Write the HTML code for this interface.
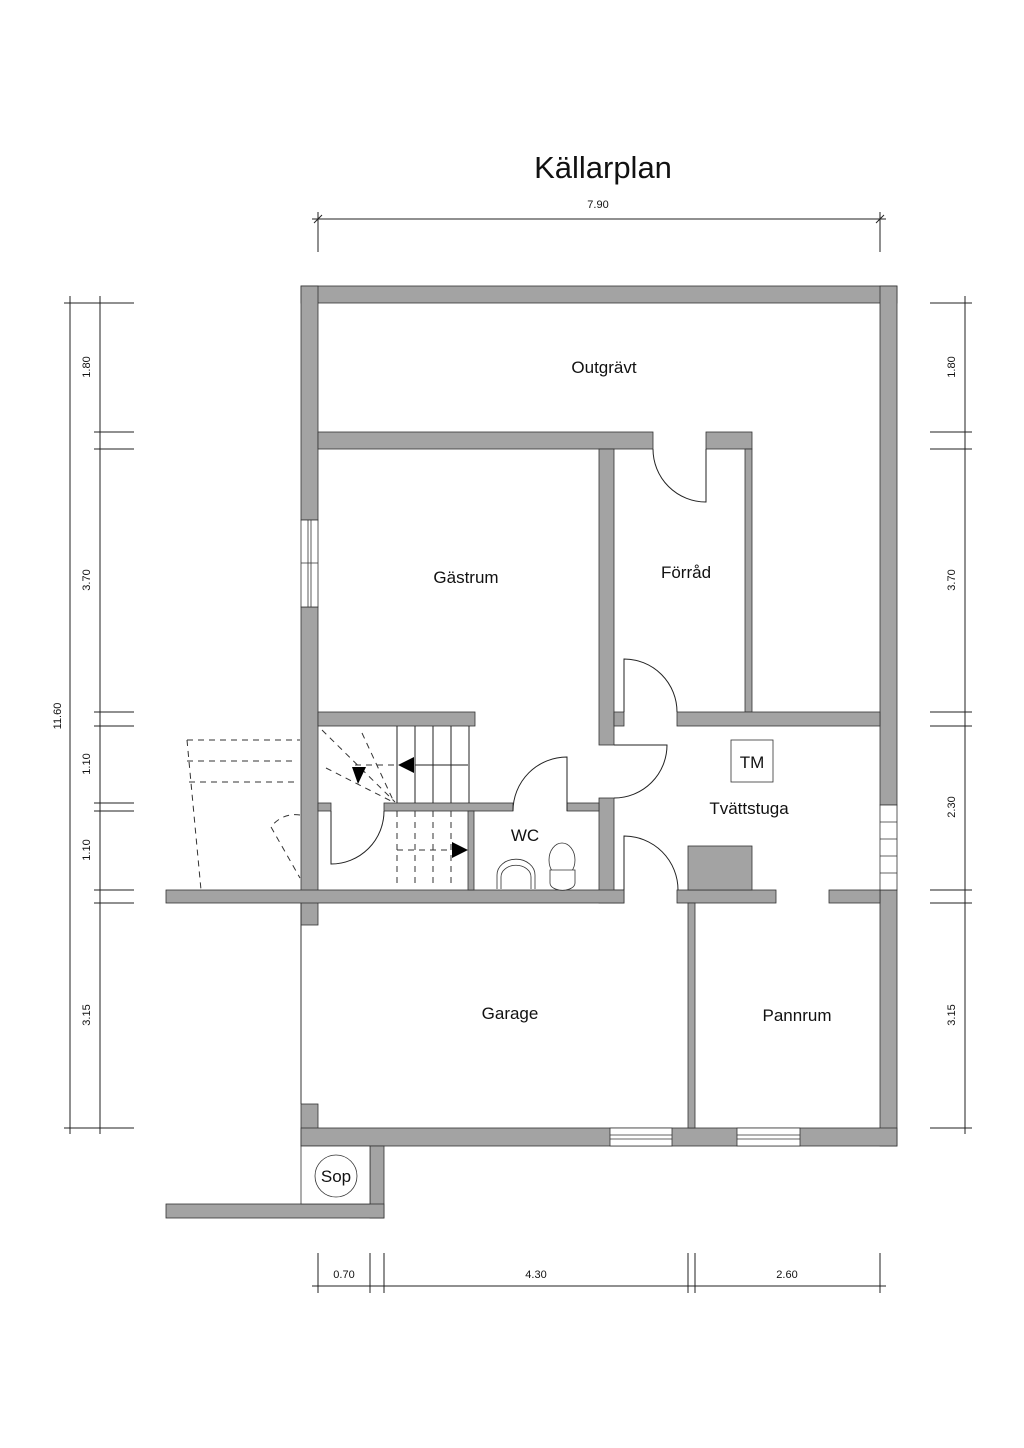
<!DOCTYPE html>
<html><head><meta charset="utf-8"><style>
html,body{margin:0;padding:0;background:#fff;}
svg{display:block;}
text{font-family:"Liberation Sans",sans-serif;fill:#111;}
</style></head><body>
<svg width="1024" height="1448" viewBox="0 0 1024 1448" xmlns="http://www.w3.org/2000/svg">
<text x="603" y="178" font-size="31" text-anchor="middle">Källarplan</text>
<!-- dimensions -->
<g stroke="#222" stroke-width="1" fill="none">
<line x1="312" y1="219" x2="886" y2="219"/><line x1="318" y1="212" x2="318" y2="252"/><line x1="880" y1="212" x2="880" y2="252"/>
<line x1="314" y1="223" x2="322" y2="215"/><line x1="876" y1="223" x2="884" y2="215"/>
<line x1="70" y1="296" x2="70" y2="1134"/><line x1="100" y1="296" x2="100" y2="1134"/>
<line x1="64" y1="303" x2="134" y2="303"/><line x1="64" y1="1128" x2="134" y2="1128"/>
<line x1="94" y1="432" x2="134" y2="432"/><line x1="94" y1="449" x2="134" y2="449"/>
<line x1="94" y1="712" x2="134" y2="712"/><line x1="94" y1="726" x2="134" y2="726"/>
<line x1="94" y1="803" x2="134" y2="803"/><line x1="94" y1="811" x2="134" y2="811"/>
<line x1="94" y1="890" x2="134" y2="890"/><line x1="94" y1="903" x2="134" y2="903"/>
<line x1="965" y1="296" x2="965" y2="1134"/>
<line x1="930" y1="303" x2="972" y2="303"/><line x1="930" y1="432" x2="972" y2="432"/><line x1="930" y1="449" x2="972" y2="449"/>
<line x1="930" y1="712" x2="972" y2="712"/><line x1="930" y1="726" x2="972" y2="726"/><line x1="930" y1="890" x2="972" y2="890"/>
<line x1="930" y1="903" x2="972" y2="903"/><line x1="930" y1="1128" x2="972" y2="1128"/>
<line x1="312" y1="1286" x2="886" y2="1286"/>
<line x1="318" y1="1253" x2="318" y2="1293"/><line x1="370" y1="1253" x2="370" y2="1293"/><line x1="384" y1="1253" x2="384" y2="1293"/>
<line x1="688" y1="1253" x2="688" y2="1293"/><line x1="695" y1="1253" x2="695" y2="1293"/><line x1="880" y1="1253" x2="880" y2="1293"/>
</g>
<g font-size="11" text-anchor="middle">
<text x="598" y="208">7.90</text>
<text x="344" y="1278">0.70</text><text x="536" y="1278">4.30</text><text x="787" y="1278">2.60</text>
<text transform="translate(61,716) rotate(-90)">11.60</text>
<text transform="translate(90,367) rotate(-90)">1.80</text>
<text transform="translate(90,580) rotate(-90)">3.70</text>
<text transform="translate(90,764) rotate(-90)">1.10</text>
<text transform="translate(90,850) rotate(-90)">1.10</text>
<text transform="translate(90,1015) rotate(-90)">3.15</text>
<text transform="translate(955,367) rotate(-90)">1.80</text>
<text transform="translate(955,580) rotate(-90)">3.70</text>
<text transform="translate(955,807) rotate(-90)">2.30</text>
<text transform="translate(955,1015) rotate(-90)">3.15</text>
</g>
<!-- walls -->
<g fill="#a3a3a3" stroke="#333" stroke-width="0.8">
<rect x="301" y="286" width="596" height="17"/>
<rect x="301" y="286" width="17" height="234"/>
<rect x="301" y="607" width="17" height="318"/>
<rect x="880" y="286" width="17" height="519"/>
<rect x="880" y="890" width="17" height="256"/>
<rect x="301" y="1104" width="17" height="42"/>
<rect x="301" y="1128" width="596" height="18"/>
<rect x="318" y="432" width="335" height="17"/>
<rect x="706" y="432" width="46" height="17"/>
<rect x="745" y="449" width="7" height="263"/>
<rect x="599" y="449" width="15" height="296"/>
<rect x="614" y="712" width="10" height="14"/>
<rect x="677" y="712" width="203" height="14"/>
<rect x="599" y="798" width="15" height="105"/>
<rect x="614" y="890" width="10" height="13"/>
<rect x="677" y="890" width="99" height="13"/>
<rect x="688" y="846" width="64" height="44"/>
<rect x="829" y="890" width="51" height="13"/>
<rect x="688" y="903" width="7" height="225"/>
<rect x="166" y="890" width="458" height="13"/>
<rect x="318" y="712" width="157" height="14"/>
<rect x="318" y="803" width="13" height="8"/>
<rect x="384" y="803" width="129" height="8"/>
<rect x="567" y="803" width="32" height="8"/>
<rect x="468" y="811" width="6" height="79"/>
<rect x="370" y="1146" width="14" height="72"/>
<rect x="166" y="1204" width="218" height="14"/>
</g>
<g fill="#fff" stroke="#333" stroke-width="0.8">
<rect x="301" y="520" width="17" height="87"/>
<line x1="308" y1="520" x2="308" y2="607"/><line x1="311" y1="520" x2="311" y2="607"/><line x1="301" y1="563" x2="318" y2="563"/>
<rect x="610" y="1128" width="62" height="18"/><line x1="610" y1="1135" x2="672" y2="1135"/><line x1="610" y1="1139" x2="672" y2="1139"/>
<rect x="737" y="1128" width="63" height="18"/><line x1="737" y1="1135" x2="800" y2="1135"/><line x1="737" y1="1139" x2="800" y2="1139"/>
<rect x="880" y="805" width="17" height="85"/>
<line x1="880" y1="822" x2="897" y2="822"/><line x1="880" y1="839" x2="897" y2="839"/><line x1="880" y1="856" x2="897" y2="856"/><line x1="880" y1="873" x2="897" y2="873"/>
<rect x="731" y="740" width="42" height="42"/>
<rect x="301" y="1146" width="69" height="58"/>
<circle cx="336" cy="1176" r="21"/>
</g>
<line x1="301" y1="903" x2="301" y2="1104" stroke="#333" stroke-width="1"/>
<!-- doors -->
<g fill="none" stroke="#222" stroke-width="1">
<path d="M706 449 V502 A53 53 0 0 1 653 449"/>
<path d="M624 712 V659 A53 53 0 0 1 677 712"/>
<path d="M614 745 H667 A53 53 0 0 1 614 798"/>
<path d="M624 890 V836 A54 54 0 0 1 678 890"/>
<path d="M567 811 V757 A54 54 0 0 0 513 811"/>
<path d="M331 811 V864 A53 53 0 0 0 384 811"/>
<!-- stairs -->
<line x1="397" y1="726" x2="397" y2="803"/><line x1="415" y1="726" x2="415" y2="803"/><line x1="433" y1="726" x2="433" y2="803"/><line x1="451" y1="726" x2="451" y2="803"/><line x1="469" y1="726" x2="469" y2="803"/>
<line x1="415" y1="765" x2="468" y2="765"/>
</g>
<g fill="none" stroke="#333" stroke-width="1" stroke-dasharray="6,5">
<line x1="397" y1="811" x2="397" y2="888"/><line x1="415" y1="811" x2="415" y2="888"/><line x1="433" y1="811" x2="433" y2="888"/><line x1="451" y1="811" x2="451" y2="888"/>
<line x1="397" y1="850" x2="452" y2="850"/>
<line x1="355" y1="765" x2="397" y2="765"/>
<line x1="322" y1="730" x2="395" y2="802"/><line x1="362" y1="733" x2="393" y2="800"/><line x1="326" y1="768" x2="393" y2="802"/>
<line x1="187" y1="740" x2="300" y2="740"/><line x1="187" y1="761" x2="296" y2="761"/><line x1="189" y1="782" x2="297" y2="782"/>
<line x1="187" y1="740" x2="201" y2="890"/>
<path d="M300 815 A30 30 0 0 0 271 827 L300 878"/>
</g>
<g fill="#000">
<polygon points="398,765 414,757 414,773"/>
<polygon points="468,850 452,842 452,858"/>
<polygon points="352,767 366,767 358,784"/>
</g>
<!-- fixtures -->
<g fill="#fff" stroke="#333" stroke-width="0.8">
<path d="M497 889 V875 A18 15 0 0 1 535 875 V889"/>
<path d="M501 889 V877 A14 11 0 0 1 531 877 V889"/>
<ellipse cx="562" cy="860" rx="13" ry="17"/>
<path d="M550 870 H575 V883 A12 7 0 0 1 550 883 Z"/>
</g>
<g font-size="17" text-anchor="middle">
<text x="604" y="373">Outgrävt</text>
<text x="466" y="583">Gästrum</text>
<text x="686" y="578">Förråd</text>
<text x="749" y="814">Tvättstuga</text>
<text x="525" y="841">WC</text>
<text x="510" y="1019">Garage</text>
<text x="797" y="1021">Pannrum</text>
<text x="752" y="768">TM</text>
<text x="336" y="1182">Sop</text>
</g>
</svg>
</body></html>
